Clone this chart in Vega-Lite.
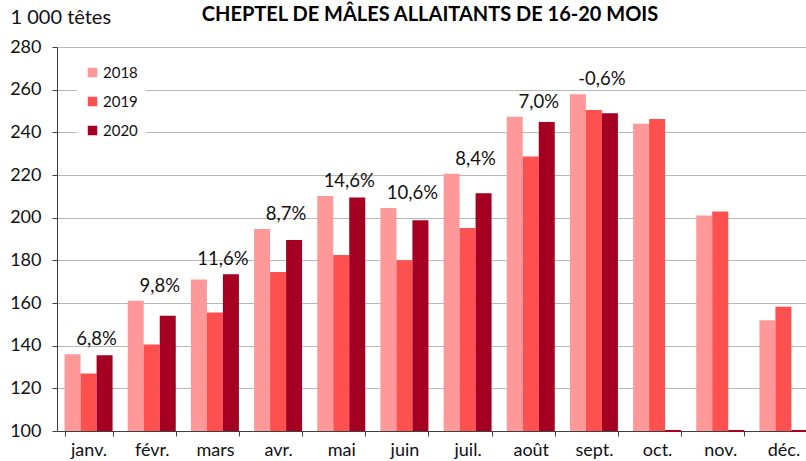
{
  "$schema": "https://vega.github.io/schema/vega-lite/v6.json",
  "width": 758,
  "height": 384,
  "autosize": {"type": "none"},
  "padding": {"left": 57, "top": 47, "right": 0, "bottom": 30},
  "background": "white",
  "config": {"font": "Lato", "view": {"stroke": null}},
  "title": {"text": "CHEPTEL DE MÂLES ALLAITANTS DE 16-20 MOIS", "fontSize": 20, "fontWeight": "bold", "font": "Lato", "anchor": "middle", "offset": 0, "dy": 18, "dx": -6, "color": "black"},
  "data": {"values": [
    {"mois": "janv.", "annee": "2018", "valeur": 136},
    {"mois": "janv.", "annee": "2019", "valeur": 127},
    {"mois": "janv.", "annee": "2020", "valeur": 135.5, "evol": "6,8%"},
    {"mois": "févr.", "annee": "2018", "valeur": 161},
    {"mois": "févr.", "annee": "2019", "valeur": 140.5},
    {"mois": "févr.", "annee": "2020", "valeur": 154, "evol": "9,8%"},
    {"mois": "mars", "annee": "2018", "valeur": 171},
    {"mois": "mars", "annee": "2019", "valeur": 155.5},
    {"mois": "mars", "annee": "2020", "valeur": 173.5, "evol": "11,6%"},
    {"mois": "avr.", "annee": "2018", "valeur": 194.7},
    {"mois": "avr.", "annee": "2019", "valeur": 174.5},
    {"mois": "avr.", "annee": "2020", "valeur": 189.5, "evol": "8,7%"},
    {"mois": "mai", "annee": "2018", "valeur": 210.2},
    {"mois": "mai", "annee": "2019", "valeur": 182.5},
    {"mois": "mai", "annee": "2020", "valeur": 209.4, "evol": "14,6%"},
    {"mois": "juin", "annee": "2018", "valeur": 204.5},
    {"mois": "juin", "annee": "2019", "valeur": 180},
    {"mois": "juin", "annee": "2020", "valeur": 198.8, "evol": "10,6%"},
    {"mois": "juil.", "annee": "2018", "valeur": 220.6},
    {"mois": "juil.", "annee": "2019", "valeur": 195.2},
    {"mois": "juil.", "annee": "2020", "valeur": 211.4, "evol": "8,4%"},
    {"mois": "août", "annee": "2018", "valeur": 247.3},
    {"mois": "août", "annee": "2019", "valeur": 228.7},
    {"mois": "août", "annee": "2020", "valeur": 244.8, "evol": "7,0%"},
    {"mois": "sept.", "annee": "2018", "valeur": 257.9},
    {"mois": "sept.", "annee": "2019", "valeur": 250.5},
    {"mois": "sept.", "annee": "2020", "valeur": 249, "evol": "-0,6%"},
    {"mois": "oct.", "annee": "2018", "valeur": 244},
    {"mois": "oct.", "annee": "2019", "valeur": 246.3},
    {"mois": "oct.", "annee": "2020", "valeur": 0},
    {"mois": "nov.", "annee": "2018", "valeur": 201},
    {"mois": "nov.", "annee": "2019", "valeur": 202.9},
    {"mois": "nov.", "annee": "2020", "valeur": 0},
    {"mois": "déc.", "annee": "2018", "valeur": 151.9},
    {"mois": "déc.", "annee": "2019", "valeur": 158.3},
    {"mois": "déc.", "annee": "2020", "valeur": 0}
  ]},
  "encoding": {
    "x": {"field": "mois", "type": "nominal", "sort": null,
      "scale": {"paddingInner": 0.24, "paddingOuter": 0.12},
      "axis": {"title": null, "labelAngle": 0, "labelFontSize": 18, "labelColor": "#111", "tickBand": "extent", "tickSize": 5, "tickColor": "#404040", "domainColor": "#404040", "labelPadding": 5, "grid": false}}
  },
  "layer": [
    {
      "mark": {"type": "bar"},
      "encoding": {
        "xOffset": {"field": "annee", "type": "nominal", "sort": ["2018", "2019", "2020"]},
        "y": {"field": "valeur", "type": "quantitative",
          "scale": {"domain": [100, 280], "zero": false, "nice": false, "clamp": true},
          "axis": {"title": "1 000 têtes", "titleAngle": 0, "titleAlign": "left", "titleX": -47, "titleY": -20, "titleFontSize": 20, "titleFont": "Lato", "titleFontWeight": 400, "titleColor": "#111", "titleLimit": 300,
            "values": [100, 120, 140, 160, 180, 200, 220, 240, 260, 280], "labelFontSize": 18, "labelColor": "#111", "labelPadding": 11, "tickSize": 5, "tickColor": "#404040", "domainColor": "#404040", "gridColor": "#b8b8b8"}},
        "color": {"field": "annee", "type": "nominal",
          "scale": {"domain": ["2018", "2019", "2020"], "range": ["#FF9999", "#FF5050", "#A50021"]},
          "legend": {"title": null, "orient": "none", "legendX": 20, "legendY": 10, "fillColor": "white", "padding": 8, "symbolType": "square", "symbolSize": 90, "symbolStrokeWidth": 0, "labelFontSize": 15, "labelColor": "#111", "rowPadding": 13, "labelOffset": 3}},
        "stroke": {"field": "annee", "type": "nominal",
          "scale": {"domain": ["2018", "2019", "2020"], "range": ["#FF9999", "#FF5050", "#A50021"]}, "legend": null},
        "strokeWidth": {"condition": {"test": "datum.valeur < 100", "value": 2}, "value": 0}
      }
    },
    {
      "transform": [
        {"joinaggregate": [{"op": "max", "field": "valeur", "as": "vmax"}], "groupby": ["mois"]},
        {"filter": "isValid(datum.evol)"}
      ],
      "mark": {"type": "text", "fontSize": 18.5, "baseline": "middle", "dy": -15, "dx": 8, "color": "#111"},
      "encoding": {
        "y": {"field": "vmax", "type": "quantitative"},
        "text": {"field": "evol"}
      }
    }
  ]
}
